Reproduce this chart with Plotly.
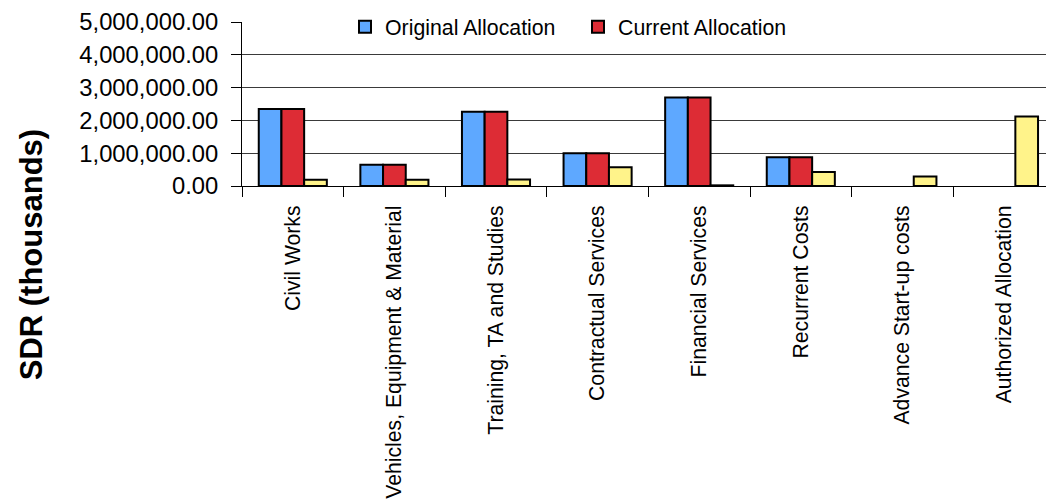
import plotly.graph_objects as go

# Allocation categories (x axis)
categories = [
    "Civil Works",
    "Vehicles, Equipment & Material",
    "Training, TA and Studies",
    "Contractual Services",
    "Financial Services",
    "Recurrent Costs",
    "Advance Start-up costs",
    "Authorized Allocation",
]

# SDR (thousands) per category
original_allocation = [2350000, 650000, 2260000, 1000000, 2700000, 875000, 0, 0]
current_allocation = [2350000, 650000, 2260000, 1000000, 2700000, 875000, 0, 0]
disbursed = [190000, 190000, 200000, 570000, 20000, 430000, 290000, 2120000]

y_ticks = [0, 1000000, 2000000, 3000000, 4000000, 5000000]

FONT = "Liberation Sans, Arial, sans-serif"
W, H = 1046, 503
L, T = 242, 22
PLOT_BOTTOM = 186.5
plot_h = PLOT_BOTTOM - T
cat_w = 101.6
# plot area runs past the right edge of the page
x_hi = -0.5 + (W - L) / cat_w


def outline_widths(values):
    # empty bars get no outline
    return [0 if v == 0 else 2 for v in values]


fig = go.Figure()
fig.add_trace(go.Bar(
    x=categories, y=original_allocation, name="Original Allocation",
    marker=dict(color="#5EA8FF",
                line=dict(color="black", width=outline_widths(original_allocation))),
))
fig.add_trace(go.Bar(
    x=categories, y=current_allocation, name="Current Allocation",
    marker=dict(color="#DD2C35",
                line=dict(color="black", width=outline_widths(current_allocation))),
))
fig.add_trace(go.Bar(
    x=categories, y=disbursed, name="Disbursed", showlegend=False,
    marker=dict(color="#FFF38A",
                line=dict(color="black", width=outline_widths(disbursed))),
))


def px_to_paper_x(px):
    return (px - L) / (W - L)


def px_to_paper_y(py):
    return (PLOT_BOTTOM - py) / plot_h


# white panel behind the legend, interrupting the top gridline
fig.add_shape(
    type="rect", xref="paper", yref="paper", layer="above",
    x0=px_to_paper_x(327), x1=px_to_paper_x(820),
    y0=px_to_paper_y(36), y1=px_to_paper_y(10),
    fillcolor="white", line=dict(width=0),
)

fig.add_annotation(
    text="<b>SDR (thousands)</b>", textangle=-90, showarrow=False,
    xref="paper", yref="paper",
    x=px_to_paper_x(31.5), y=px_to_paper_y(255.5),
    xanchor="center", yanchor="middle",
    font=dict(family=FONT, size=31, color="black"),
)

fig.update_layout(
    width=W, height=H,
    margin=dict(l=L, r=0, t=T, b=H - PLOT_BOTTOM, autoexpand=False),
    paper_bgcolor="white", plot_bgcolor="white",
    barmode="group", bargap=0.33, bargroupgap=0,
    font=dict(family=FONT, color="black"),
    legend=dict(
        orientation="h", x=px_to_paper_x(345), y=px_to_paper_y(27),
        xanchor="left", yanchor="middle",
        bgcolor="rgba(0,0,0,0)", borderwidth=0,
        entrywidth=188, entrywidthmode="pixels",
        font=dict(family=FONT, size=21.3, color="black"),
        traceorder="normal",
    ),
    xaxis=dict(
        type="category", range=[-0.5, x_hi],
        showgrid=False, showline=True, linecolor="black", linewidth=1,
        ticks="outside", tickson="boundaries", ticklen=10,
        tickcolor="black", tickangle=-90, ticklabelstandoff=10,
        tickfont=dict(family=FONT, size=21.2, color="black"),
    ),
    yaxis=dict(
        range=[0, 5000000], tickvals=y_ticks, tickformat=",.2f",
        showgrid=True, gridcolor="#3a3a3a", gridwidth=1,
        zeroline=False, showline=True, linecolor="black", linewidth=1,
        ticks="outside", ticklen=10, tickcolor="black",
        ticklabelstandoff=8,
        tickfont=dict(family=FONT, size=23.8, color="black"),
    ),
)

fig.write_html("out.html")
